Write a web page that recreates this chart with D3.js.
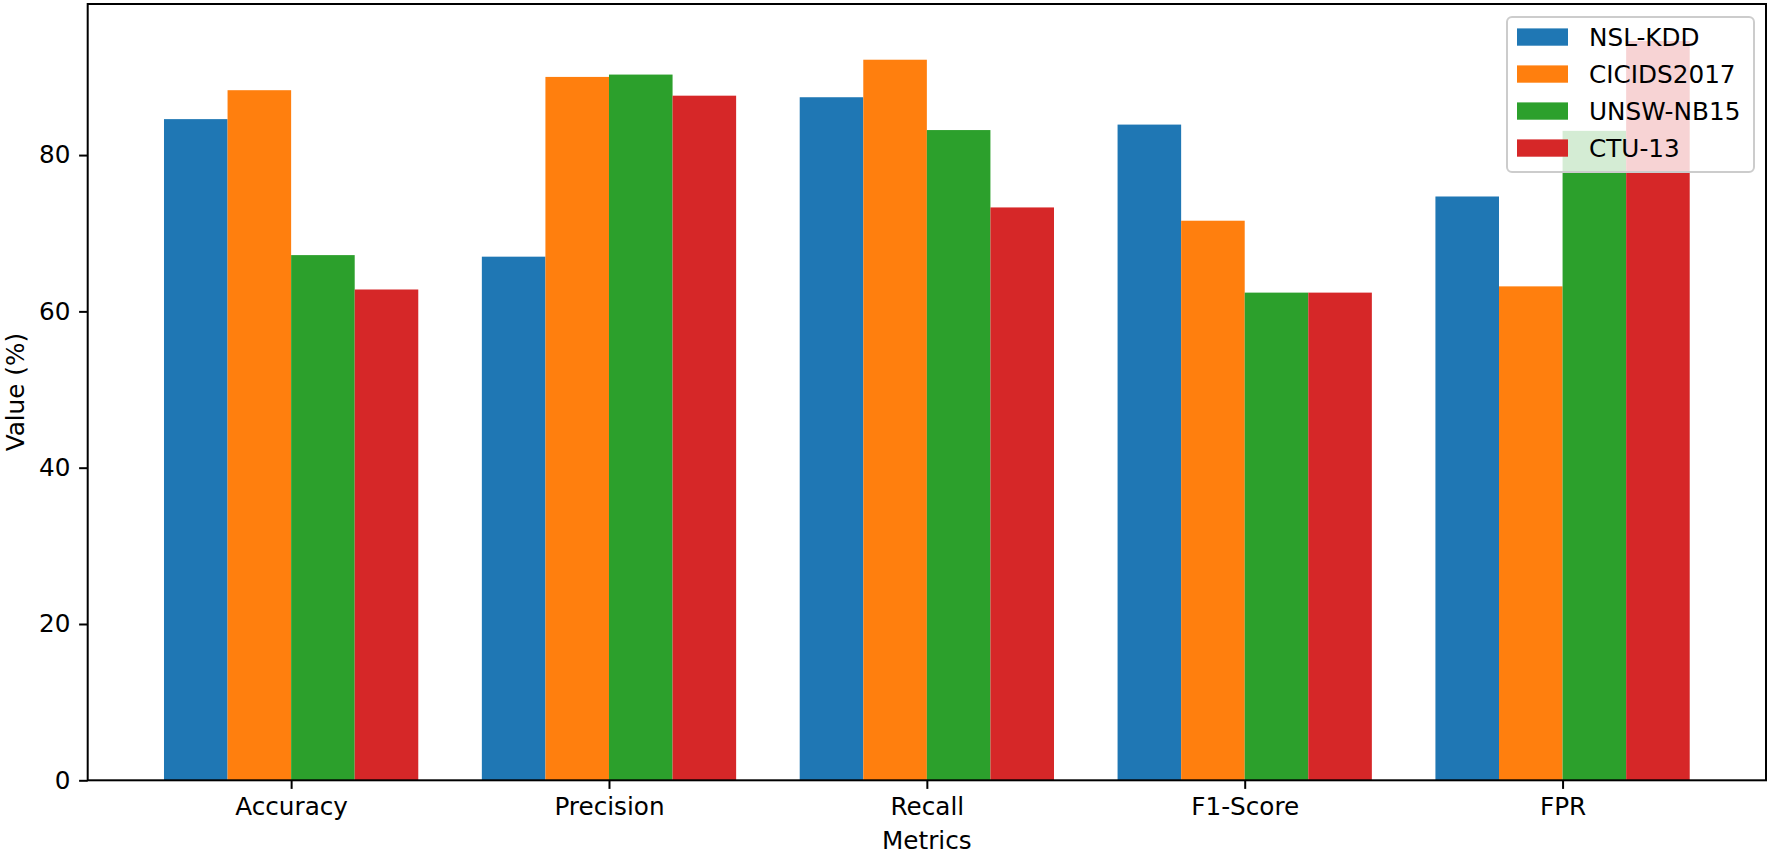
<!DOCTYPE html>
<html>
<head>
<meta charset="utf-8">
<script src="https://cdn.jsdelivr.net/npm/d3@7"></script>
<style>
body { margin: 0; background: white; }
svg { display: block; font-family: 'DejaVu Sans', sans-serif; }
</style>
</head>
<body>
<svg></svg>
<script>
var width = 1769;
var height = 856;

var categories = ["Accuracy", "Precision", "Recall", "F1-Score", "FPR"];
var datasets = ["NSL-KDD", "CICIDS2017", "UNSW-NB15", "CTU-13"];
var colors = ["#1f77b4", "#ff7f0e", "#2ca02c", "#d62728"];

var nslKdd = [84.6, 67.0, 87.4, 83.9, 74.7];
var cicids2017 = [88.3, 90.0, 92.2, 71.6, 63.2];
var unswNb15 = [67.2, 90.3, 83.2, 62.4, 83.1];
var ctu13 = [62.8, 87.6, 73.3, 62.4, 94.6];

var yTicks = [0, 20, 40, 60, 80];
var series = [nslKdd, cicids2017, unswNb15, ctu13];
var barWidth = 0.2;

var margin = {left: 87.7, right: 3, top: 4, bottom: 75.7};
var fs = 24.7;

var svg = d3.select('svg')
    .attr('width', width)
    .attr('height', height);

var ymax = d3.max(series, function(s) { return d3.max(s); }) * 1.05;

var x = d3.scaleLinear()
    .domain([-0.64, categories.length - 1 + 0.64])
    .range([margin.left, width - margin.right]);
var y = d3.scaleLinear()
    .domain([0, ymax])
    .range([height - margin.bottom, margin.top]);

var bars = [];
series.forEach(function(s, j) {
    s.forEach(function(v, i) {
        bars.push({i: i, j: j, v: v});
    });
});

svg.append('g').selectAll('rect')
    .data(bars)
  .enter().append('rect')
    .attr('x', function(d) { return x(d.i + (d.j - 1.5) * barWidth - barWidth / 2); })
    .attr('width', function(d) { return x(barWidth) - x(0); })
    .attr('y', function(d) { return y(d.v); })
    .attr('height', function(d) { return y(0) - y(d.v); })
    .attr('fill', function(d) { return colors[d.j]; });

var xAxis = svg.append('g')
    .attr('transform', 'translate(0,' + y(0) + ')')
    .call(d3.axisBottom(x)
        .tickValues(d3.range(categories.length))
        .tickFormat(function(i) { return categories[i]; })
        .tickSize(8.6).tickPadding(8.6));

var yAxis = svg.append('g')
    .attr('transform', 'translate(' + x.range()[0] + ',0)')
    .call(d3.axisLeft(y)
        .tickValues(yTicks)
        .tickSize(8.6).tickPadding(8.6));

[xAxis, yAxis].forEach(function(a) {
    a.select('.domain').remove();
    a.selectAll('line').attr('stroke', 'black').attr('stroke-width', 2);
    a.selectAll('text').attr('font-size', fs).attr('fill', 'black')
        .attr('font-family', "'DejaVu Sans', sans-serif");
});

// frame
svg.append('rect')
    .attr('x', x.range()[0])
    .attr('y', y.range()[1])
    .attr('width', x.range()[1] - x.range()[0])
    .attr('height', y.range()[0] - y.range()[1])
    .attr('fill', 'none')
    .attr('stroke', 'black')
    .attr('stroke-width', 2);

svg.append('text')
    .attr('x', (x.range()[0] + x.range()[1]) / 2)
    .attr('y', 849)
    .attr('text-anchor', 'middle')
    .attr('font-size', fs)
    .text('Metrics');

svg.append('text')
    .attr('transform', 'translate(24,' + (y.range()[0] + y.range()[1]) / 2 + ') rotate(-90)')
    .attr('text-anchor', 'middle')
    .attr('font-size', fs)
    .text('Value (%)');

// legend
var legend = svg.append('g').attr('transform', 'translate(1507,17)');
legend.append('rect')
    .attr('width', 247)
    .attr('height', 155)
    .attr('rx', 5)
    .attr('fill', 'white')
    .attr('fill-opacity', 0.8)
    .attr('stroke', '#cccccc')
    .attr('stroke-width', 2);
var items = legend.selectAll('.item')
    .data(datasets)
  .enter().append('g')
    .attr('class', 'item')
    .attr('transform', function(d, i) { return 'translate(0,' + (20 + i * 37) + ')'; });
items.append('rect')
    .attr('x', 10)
    .attr('y', -8.6)
    .attr('width', 51)
    .attr('height', 17.3)
    .attr('fill', function(d, i) { return colors[i]; });
items.append('text')
    .attr('x', 82)
    .attr('y', 0)
    .attr('dy', '0.36em')
    .attr('font-size', fs)
    .text(function(d) { return d; });
</script>
</body>
</html>
